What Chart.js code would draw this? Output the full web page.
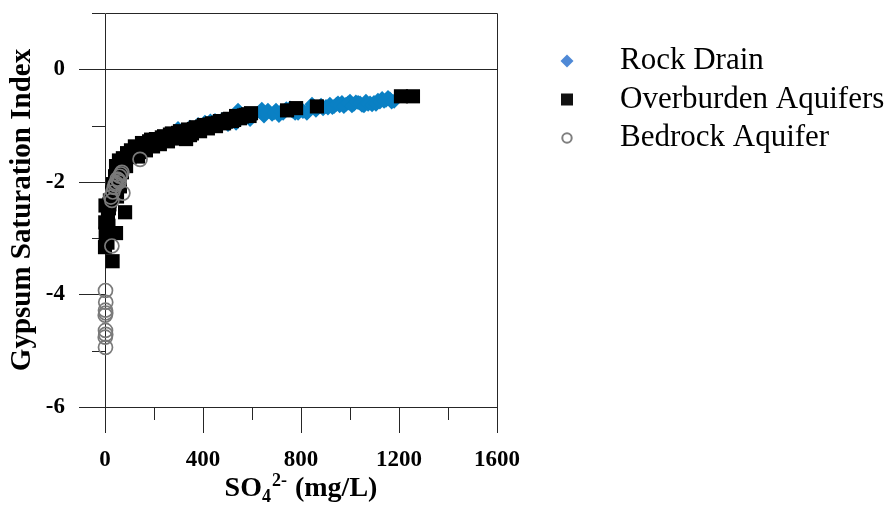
<!DOCTYPE html>
<html><head><meta charset="utf-8">
<script src="https://cdn.jsdelivr.net/npm/chart.js@4/dist/chart.umd.min.js"></script>
<style>html,body{margin:0;padding:0;background:#fff;}#wrap{width:893px;height:505px;}</style>
</head><body><div id="wrap"><canvas id="c" width="893" height="505"></canvas></div>
<script>
const seriesNames = ['Rock Drain', 'Overburden Aquifers', 'Bedrock Aquifer'];

const rockDrainSO4 = [298,347,380,408,430,449,478,502,520,535,543,571,592,610,633,649,665,682,698,710,727,740,755,776,788,808,824,845,861,882,902,918,935,951,967,984,1000,1016,1033,1049,1065,1082,1098,1114,1131,1147,1163,1180,
  640,656,690,718,765,800,835,870,890,910,928,945,958,975,992,1008,1024,1041,1057,1074,1090,1106,1122,1139,1155,1170];
const rockDrainSI  = [-1.05,-1.03,-0.98,-0.94,-0.92,-0.91,-0.89,-0.98,-0.90,-0.96,-0.73,-0.82,-0.89,-0.80,-0.76,-0.83,-0.73,-0.80,-0.73,-0.82,-0.78,-0.70,-0.69,-0.78,-0.78,-0.75,-0.78,-0.62,-0.73,-0.64,-0.66,-0.62,-0.66,-0.60,-0.59,-0.62,-0.57,-0.62,-0.59,-0.64,-0.57,-0.60,-0.59,-0.55,-0.52,-0.55,-0.53,-0.57,
  -0.71,-0.78,-0.77,-0.75,-0.74,-0.70,-0.70,-0.68,-0.70,-0.69,-0.68,-0.62,-0.65,-0.66,-0.60,-0.65,-0.58,-0.60,-0.65,-0.62,-0.63,-0.62,-0.58,-0.57,-0.50,-0.58];

const overburdenSO4 = [0,4,8,12,16,20,29,31,45,82,33,41,49,45,57,61,73,90,69,86,61,49,106,122,135,151,167,180,196,208,224,241,257,273,290,306,322,331,339,355,371,388,404,420,437,453,469,486,502,518,535,551,567,584,596,743,780,865,1208,1257,
  2,1,3,10,14,18,100,114,128,143,160,175,188,214,232,249,265,282,298,314,347,363,380,396,412,428,445,461,478,494,510,527,543,559,575,590];
const overburdenSI  = [-3.16,-3.00,-2.82,-2.65,-2.47,-2.33,-2.19,-3.41,-2.91,-2.54,-2.04,-1.90,-1.76,-1.72,-1.62,-1.67,-1.58,-1.49,-1.83,-1.72,-2.08,-2.26,-1.44,-1.37,-1.55,-1.31,-1.44,-1.28,-1.37,-1.24,-1.33,-1.19,-1.28,-1.14,-1.23,-1.10,-1.19,-1.24,-1.07,-1.14,-1.03,-1.10,-0.99,-1.05,-0.96,-1.01,-0.92,-0.96,-0.89,-0.92,-0.83,-0.87,-0.82,-0.80,-0.78,-0.73,-0.69,-0.66,-0.48,-0.48,
  -2.42,-2.72,-2.92,-3.08,-2.78,-2.40,-1.56,-1.50,-1.42,-1.47,-1.34,-1.36,-1.25,-1.29,-1.21,-1.24,-1.16,-1.20,-1.13,-1.16,-1.17,-1.06,-1.07,-1.02,-1.03,-0.98,-0.99,-0.95,-0.94,-0.93,-0.88,-0.90,-0.86,-0.84,-0.81,-0.83];

const bedrockSO4 = [2,3,2,3,1,2,3,1,2,28,28,24,32,38,42,45,50,55,60,65,69,58,73,143];
const bedrockSI  = [-3.93,-4.14,-4.28,-4.33,-4.37,-4.64,-4.71,-4.76,-4.94,-3.14,-2.33,-2.27,-2.18,-2.10,-2.05,-2.02,-1.95,-1.97,-1.90,-1.86,-1.83,-2.00,-2.20,-1.60];

const xTickValues = [0, 400, 800, 1200, 1600];
const xMinorTickValues = [200, 600, 1000, 1400];
const xTickLabels = ['0', '400', '800', '1200', '1600'];
const yTickValues = [-6, -4, -2, 0];
const yMinorTickValues = [-5, -3, -1, 1];
const yTickLabels = ['-6', '-4', '-2', '0'];
const yTitle = 'Gypsum Saturation Index';
const xTitleParts = ['SO', '4', '2-', ' (mg/L)'];

const SERIF = "'Times New Roman', 'Liberation Serif', serif";
const LINE = '#262626';

function pts(xs, ys) { return xs.map((x, i) => ({x: x, y: ys[i]})); }

function icon(kind) {
  const c = document.createElement('canvas');
  c.width = 51; c.height = 20;
  const g = c.getContext('2d');
  const cx = 38, cy = 10;
  if (kind === 0) {
    g.fillStyle = '#4F89D6';
    g.beginPath(); g.moveTo(cx - 6.5, cy); g.lineTo(cx, cy - 6.5); g.lineTo(cx + 6.5, cy); g.lineTo(cx, cy + 6.5); g.closePath(); g.fill();
  } else if (kind === 1) {
    g.fillStyle = '#111111';
    g.fillRect(cx - 6, cy - 6, 12, 12);
  } else {
    g.strokeStyle = '#7F7F7F'; g.lineWidth = 2;
    g.beginPath(); g.arc(cx, cy, 4.7, 0, Math.PI * 2); g.stroke();
  }
  return c;
}
const legendIcons = [icon(0), icon(1), icon(2)];

const axesPlugin = {
  id: 'axesPlugin',
  afterInit(chart) {
    const lg = chart.legend;
    if (lg) {
      const f = lg.fit;
      lg.fit = function () { f.call(this); this.width = 396; };
    }
  },
  beforeDatasetsDraw(chart) {
    const ctx = chart.ctx, xs = chart.scales.x, ys = chart.scales.y, a = chart.chartArea;
    ctx.save();
    ctx.strokeStyle = LINE; ctx.lineWidth = 1;
    const line = (x1, y1, x2, y2) => { ctx.beginPath(); ctx.moveTo(x1, y1); ctx.lineTo(x2, y2); ctx.stroke(); };
    const r = v => Math.round(v) + 0.5;
    yTickValues.forEach(v => { const p = r(ys.getPixelForValue(v)); line(a.left - 26, p, a.left, p); });
    yMinorTickValues.forEach(v => { const p = r(ys.getPixelForValue(v)); line(a.left - 13, p, a.left, p); });
    xTickValues.forEach(v => { const p = r(xs.getPixelForValue(v)); line(p, a.bottom, p, a.bottom + 26); });
    xMinorTickValues.forEach(v => { const p = r(xs.getPixelForValue(v)); line(p, a.bottom, p, a.bottom + 13); });
    const L = r(xs.getPixelForValue(0)), R = r(xs.getPixelForValue(1600));
    const T = r(ys.getPixelForValue(1)), B = r(ys.getPixelForValue(-6)), Z = r(ys.getPixelForValue(0));
    line(L, T, R, T); line(L, B, R, B); line(L, Z, R, Z);
    line(L, T, L, B); line(R, T, R, B);
    ctx.restore();
  },
  afterDraw(chart) {
    const ctx = chart.ctx, a = chart.chartArea;
    ctx.save();
    ctx.fillStyle = '#000';
    ctx.textBaseline = 'alphabetic';
    const big = 'bold 28px ' + SERIF, small = 'bold 18px ' + SERIF;
    const specs = [[big, 0, 0], [small, 6, 1], [small, -10, 1], [big, 0, 0]];
    let total = 0;
    const widths = xTitleParts.map((t, i) => { ctx.font = specs[i][0]; const w = ctx.measureText(t).width + specs[i][2]; total += w; return w; });
    let x = (a.left + a.right) / 2 - total / 2;
    const base = a.bottom + 89;
    xTitleParts.forEach((t, i) => { ctx.font = specs[i][0]; ctx.fillText(t, x, base + specs[i][1]); x += widths[i]; });
    ctx.restore();
  }
};

new Chart(document.getElementById('c'), {
  type: 'scatter',
  data: {
    datasets: [
      { label: seriesNames[0], data: pts(rockDrainSO4, rockDrainSI), pointStyle: 'rectRot', pointRadius: 7.5, pointHoverRadius: 7.5,
        backgroundColor: '#0A80C4', borderColor: '#0A80C4', borderWidth: 0, order: 3, clip: false },
      { label: seriesNames[1], data: pts(overburdenSO4, overburdenSI), pointStyle: 'rect', pointRadius: 10, pointHoverRadius: 10,
        backgroundColor: '#000000', borderColor: '#000000', borderWidth: 0, order: 2, clip: false },
      { label: seriesNames[2], data: pts(bedrockSO4, bedrockSI), pointStyle: 'circle', pointRadius: 7, pointHoverRadius: 7,
        backgroundColor: 'rgba(0,0,0,0)', borderColor: '#7A7A7A', borderWidth: 1.7, order: 1, clip: false }
    ]
  },
  options: {
    responsive: false, animation: false, devicePixelRatio: 1,
    layout: { padding: { top: 13, left: 0, right: 0, bottom: 0 }, autoPadding: false },
    plugins: {
      tooltip: { enabled: false },
      legend: {
        position: 'right', align: 'start',
        title: { display: true, text: '', font: { size: 13, lineHeight: 1 }, padding: 6 },
        labels: {
          usePointStyle: true, pointStyleWidth: 100, padding: 7.5, color: '#000',
          font: { family: SERIF, size: 31 },
          generateLabels: (chart) => chart.data.datasets.map((ds, i) => ({
            text: ds.label, datasetIndex: i, pointStyle: legendIcons[i], fontColor: '#000000',
            fillStyle: ds.backgroundColor, strokeStyle: ds.borderColor, lineWidth: 0, hidden: false
          }))
        }
      }
    },
    scales: {
      x: {
        type: 'linear', min: 0, max: 1600,
        grid: { display: false, drawTicks: false }, border: { display: false },
        afterBuildTicks: (s) => { s.ticks = xTickValues.map(v => ({ value: v })); },
        afterFit: (s) => { s.height = 98; s.paddingLeft = 0; s.paddingRight = 0; },
        ticks: { autoSkip: false, maxRotation: 0, padding: 39, color: '#000',
          font: { family: SERIF, size: 23, weight: 'bold' },
          callback: (v) => xTickLabels[xTickValues.indexOf(v)] }
      },
      y: {
        type: 'linear', min: -6, max: 1,
        grid: { display: false, drawTicks: false }, border: { display: false },
        afterBuildTicks: (s) => { s.ticks = yTickValues.map(v => ({ value: v })); },
        afterFit: (s) => { s.width = 105; s.paddingTop = 0; s.paddingBottom = 0; },
        ticks: { padding: 40, color: '#000', font: { family: SERIF, size: 23, weight: 'bold' },
          callback: (v) => yTickLabels[yTickValues.indexOf(v)] },
        title: { display: true, text: yTitle, color: '#000', padding: { top: 5, bottom: 0 },
          font: { family: SERIF, size: 29, weight: 'bold' } }
      }
    }
  },
  plugins: [axesPlugin]
});
</script>
</body></html>
